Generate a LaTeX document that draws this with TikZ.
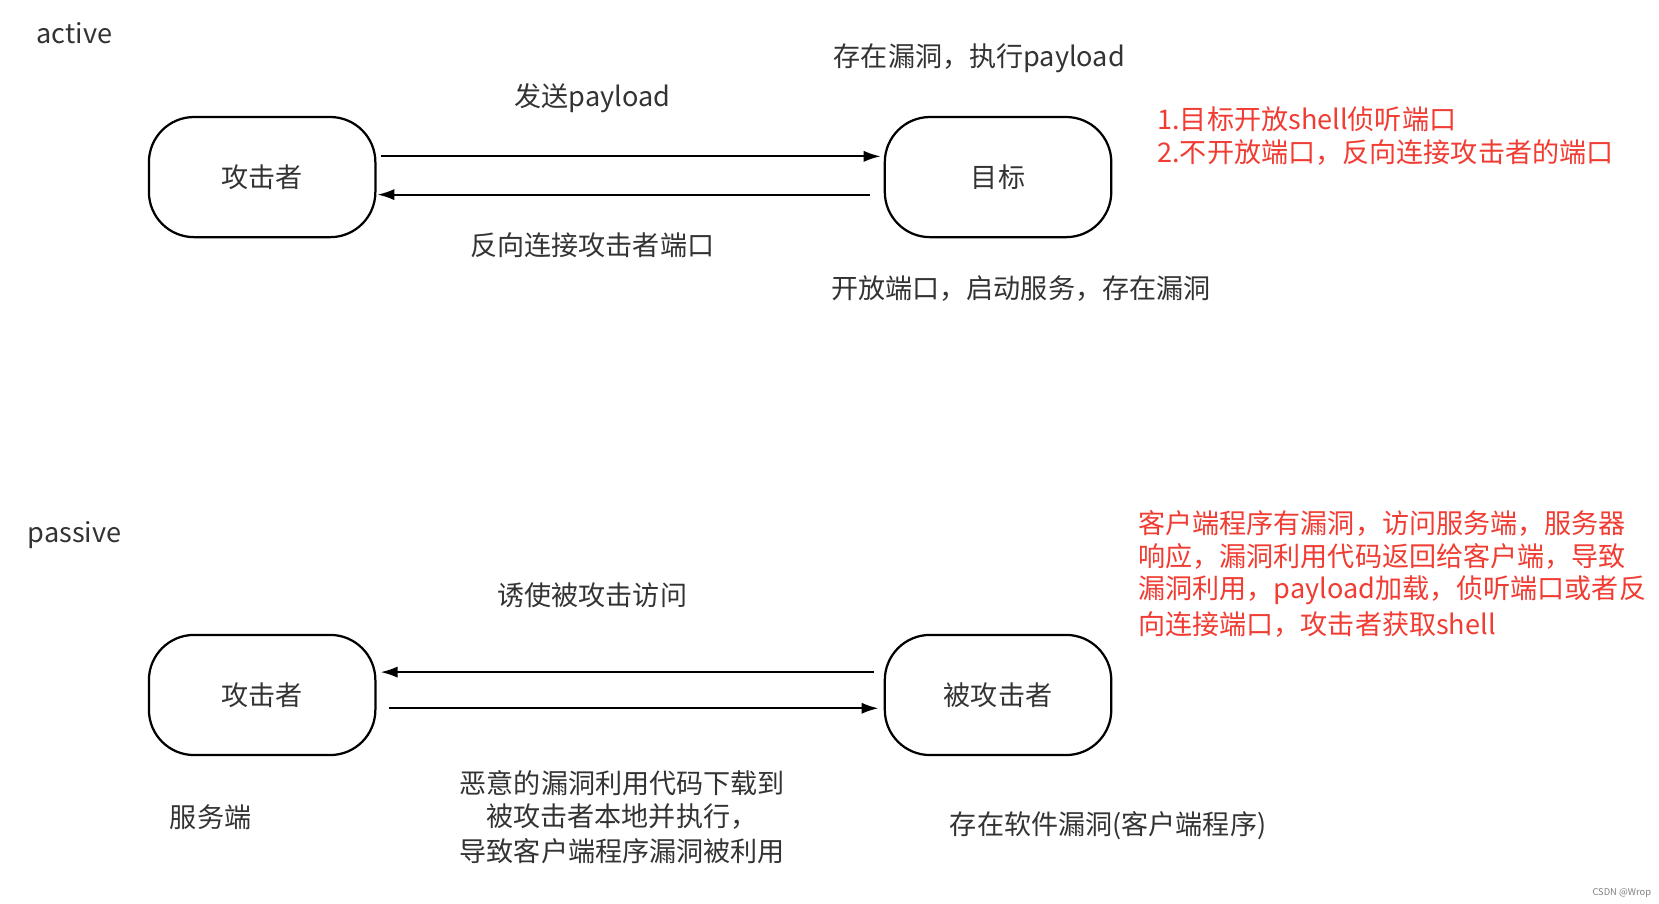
\documentclass[tikz,border=0pt]{standalone}
\usepackage{fontspec}
\setmainfont{Noto Sans CJK SC}
\usetikzlibrary{arrows.meta}
\definecolor{txt}{HTML}{333333}
\definecolor{red1}{HTML}{F03C32}
\begin{document}
\begin{tikzpicture}[x=0.02cm,y=-0.02cm,
  box/.style={draw=black,line width=1.2pt,rounded corners=0.85cm,minimum width=4.26cm,minimum height=2.26cm,text=txt,font=\fontsize{14.5}{17}\selectfont},
  lbl/.style={text=txt,font=\fontsize{14.5}{17}\selectfont,inner sep=0pt},
  rl/.style={text=red1,font=\fontsize{14.5}{16}\selectfont,inner sep=0pt,anchor=west},
  arr/.style={line width=1pt,-{Latex[length=9pt,width=6pt]}}]
\useasboundingbox (0,0) rectangle (1560,850);
\node[box] (a1) at (246.5,166.5) {攻击者};
\node[box] (t1) at (938.5,166.5) {目标};
\node[box] (a2) at (246.5,653.5) {攻击者};
\node[box] (t2) at (938.5,653.5) {被攻击者};
\coordinate (p1) at (358,147); \coordinate (p2) at (828,147);
\coordinate (p3) at (818,183); \coordinate (p4) at (355,183);
\coordinate (p5) at (822,632); \coordinate (p6) at (358,632);
\coordinate (p7) at (366,666); \coordinate (p8) at (826,666);
\draw[arr] (p1) -- (p2);
\draw[arr] (p3) -- (p4);
\draw[arr] (p5) -- (p6);
\draw[arr] (p7) -- (p8);
\node[lbl] (l1) at (70,31) {active};
\node[lbl] (l2) at (557,92) {发送payload};
\node[lbl] (l3) at (921,55) {存在漏洞，执行payload};
\node[lbl] (l4) at (557,231) {反向连接攻击者端口};
\node[lbl] (l5) at (960,271) {开放端口，启动服务，存在漏洞};
\node[rl] (r1) at (1088,112) {1.目标开放shell侦听端口};
\node[rl] (r2) at (1088,143) {2.不开放端口，反向连接攻击者的端口};
\node[lbl] (l6) at (70,503) {passive};
\node[rl] (r3) at (1070,492) {客户端程序有漏洞，访问服务端，服务器};
\node[rl] (r4) at (1070,523) {响应，漏洞利用代码返回给客户端，导致};
\node[rl] (r5) at (1070,555) {漏洞利用，payload加载，侦听端口或者反};
\node[rl] (r6) at (1070,587) {向连接端口，攻击者获取shell};
\node[lbl] (l7) at (557,560) {诱使被攻击访问};
\node[lbl,anchor=west] (m1) at (432,736) {恶意的漏洞利用代码下载到};
\node[lbl,anchor=west] (m2) at (457,768) {被攻击者本地并执行，};
\node[lbl,anchor=west] (m3) at (432,800) {导致客户端程序漏洞被利用};
\node[lbl] (l8) at (198,768) {服务端};
\node[lbl] (l9) at (1042,776) {存在软件漏洞(客户端程序)};
\node[text=gray,font=\fontsize{5}{6}\selectfont,inner sep=0pt] (c) at (1525,840) {CSDN @Wrop};
\end{tikzpicture}
\end{document}
